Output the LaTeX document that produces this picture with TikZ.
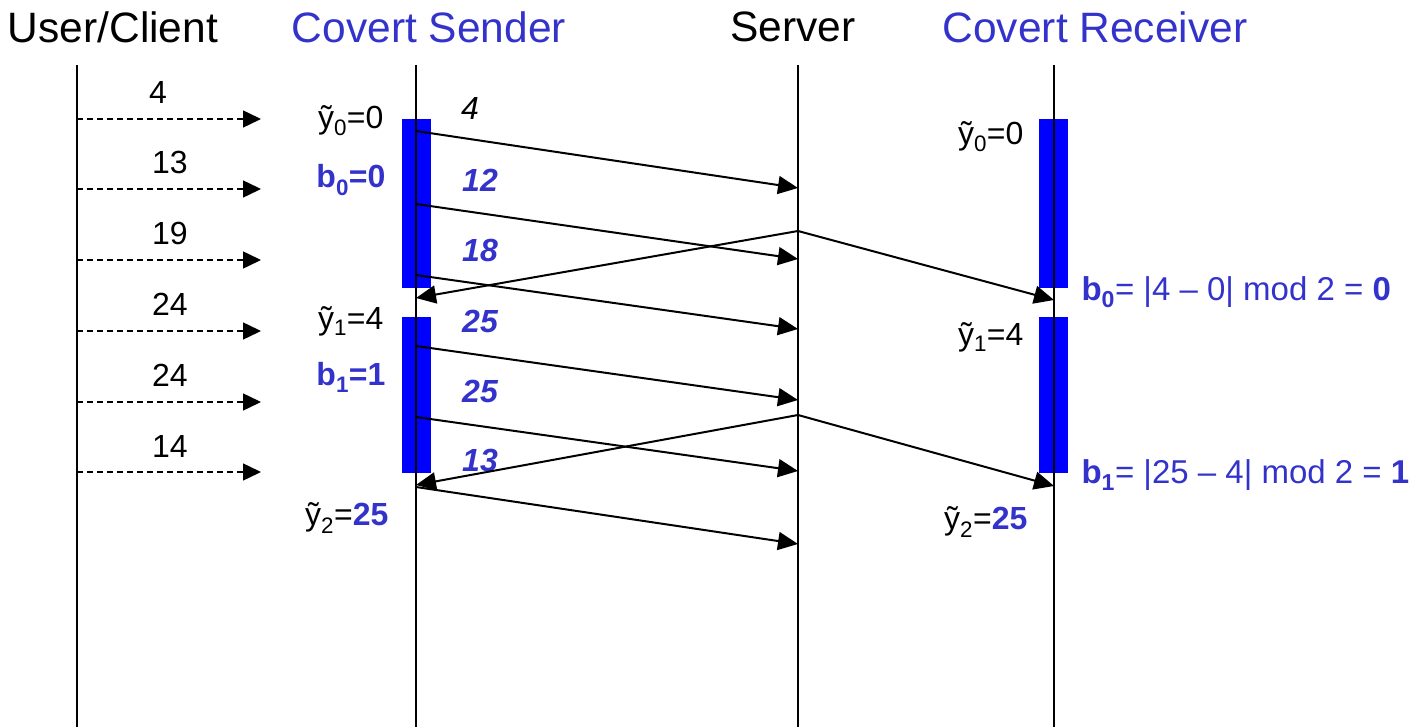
\documentclass[tikz,border=0pt]{standalone}
\usepackage{fontspec}
\setmainfont{Liberation Sans}
\usetikzlibrary{arrows.meta}
\definecolor{bartone}{RGB}{0,0,255}
\definecolor{txtblue}{RGB}{51,51,204}
\begin{document}
\begin{tikzpicture}[x=1pt,y=-1pt,
  lifeline/.style={line width=2pt},
  msg/.style={line width=2pt,-{Triangle[length=20pt,width=18pt]}},
  dmsg/.style={line width=1.5pt,dash pattern=on 6pt off 4pt,-{Triangle[length=18pt,width=17pt]}},
  title/.style={font=\fontsize{42.5}{46}\selectfont},
  lbl/.style={font=\fontsize{32}{36}\selectfont},
  val/.style={font=\fontsize{32}{36}\selectfont\bfseries\itshape,text=txtblue},
  state/.style={font=\fontsize{32}{36}\selectfont\bfseries,text=txtblue},
  rule/.style={font=\fontsize{33}{37}\selectfont,text=txtblue,anchor=west},
  window/.style={fill=bartone,draw=none}]
\useasboundingbox (0,0) rectangle (1421,727);

% titles
\node[title] (tuser) at (113,27) {User/Client};
\node[title,text=txtblue] (tsend) at (429,27) {Covert Sender};
\node[title] (tserv) at (793,27) {Server};
\node[title,text=txtblue] (trecv) at (1095,27) {Covert Receiver};

% observation windows
\fill[window] (402,119) rectangle (431,288);
\fill[window] (402,317) rectangle (431,473);
\fill[window] (1039,119) rectangle (1068,288);
\fill[window] (1039,317) rectangle (1068,473);

% lifelines
\foreach \n/\x in {u/77,s/416,v/798,r/1054}{
  \coordinate (\n top) at (\x,65);
  \coordinate (\n bot) at (\x,727);
  \draw[lifeline] (\n top) -- (\n bot);
}

% client requests
\foreach \i/\y in {1/119,2/189,3/260,4/331,5/402,6/472}{
  \coordinate (c\i) at (77,\y);
  \coordinate (ce\i) at (261,\y);
  \draw[dmsg] (c\i) -- (ce\i);
}
\node[lbl] (lc1) at (158,92) {4};
\node[lbl] (lc2) at (170,162) {13};
\node[lbl] (lc3) at (170,233) {19};
\node[lbl] (lc4) at (170,304) {24};
\node[lbl] (lc5) at (170,375) {24};
\node[lbl] (lc6) at (170,446) {14};

% sender to server
\foreach \i/\ya/\yb in {1/131/188,2/204/259,3/275/329,4/346/400,5/417/471,6/487/544}{
  \coordinate (sa\i) at (416,\ya);
  \coordinate (vb\i) at (798,\yb);
  \draw[msg] (sa\i) -- (vb\i);
}
\node[lbl,font=\fontsize{32}{36}\selectfont\itshape] (ls1) at (470,108) {4};
\node[val] (ls2) at (480,180) {12};
\node[val] (ls3) at (480,250) {18};
\node[val] (ls4) at (480,321) {25};
\node[val] (ls5) at (480,391) {25};
\node[val] (ls6) at (480,460) {13};

% server responses
\coordinate (vr1) at (798,231);
\coordinate (vr2) at (798,415);
\coordinate (sr1) at (416,298);
\coordinate (sr2) at (416,485);
\coordinate (rr1) at (1054,300);
\coordinate (rr2) at (1054,486);
\draw[msg] (vr1) -- (sr1);
\draw[msg] (vr1) -- (rr1);
\draw[msg] (vr2) -- (sr2);
\draw[msg] (vr2) -- (rr2);

% sender state
\node[lbl,anchor=east] (sy0) at (387,121) {ỹ\textsubscript{0}=0};
\node[state,anchor=east] (sb0) at (389,180) {b\textsubscript{0}=0};
\node[lbl,anchor=east] (sy1) at (387,321) {ỹ\textsubscript{1}=4};
\node[state,anchor=east] (sb1) at (389,377) {b\textsubscript{1}=1};
\node[lbl,anchor=east] (sy2) at (392,518) {ỹ\textsubscript{2}=\textcolor{txtblue}{\bfseries 25}};

% receiver state
\node[lbl,anchor=east] (ry0) at (1027,137) {ỹ\textsubscript{0}=0};
\node[lbl,anchor=east] (ry1) at (1027,337) {ỹ\textsubscript{1}=4};
\node[lbl,anchor=east] (ry2) at (1031,522) {ỹ\textsubscript{2}=\textcolor{txtblue}{\bfseries 25}};
\node[rule] (rb0) at (1078,292) {\textbf{b\textsubscript{0}}= |4 – 0| mod 2 = \textbf{0}};
\node[rule] (rb1) at (1078,475) {\textbf{b\textsubscript{1}}= |25 – 4| mod 2 = \textbf{1}};
\end{tikzpicture}
\end{document}
